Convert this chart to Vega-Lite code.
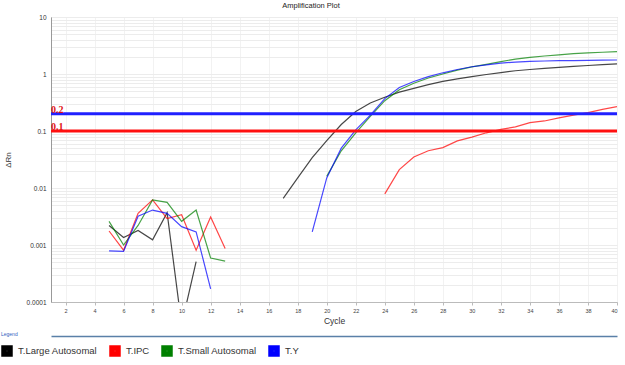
{
  "$schema": "https://vega.github.io/schema/vega-lite/v6.json",
  "autosize": "none",
  "width": 566,
  "height": 285,
  "padding": {"left": 51, "top": 17, "right": 8, "bottom": 63},
  "background": "white",
  "title": {"text": "Amplification Plot", "fontSize": 7.5, "font": "Liberation Sans", "fontWeight": "normal", "color": "#222", "anchor": "middle", "offset": 5, "dx": -23},
  "config": {
    "view": {"stroke": "#c8c8c8"},
    "font": "Liberation Sans"
  },
  "resolve": {"axis": {"x": "independent"}},
  "layer": [
    {
      "data": {"values": [
        {"cycle": 5, "dRn": 0.0022, "target": "T.Large Autosomal", "seg": "a"},
        {"cycle": 6, "dRn": 0.00135, "target": "T.Large Autosomal", "seg": "a"},
        {"cycle": 7, "dRn": 0.0018, "target": "T.Large Autosomal", "seg": "a"},
        {"cycle": 8, "dRn": 0.00123, "target": "T.Large Autosomal", "seg": "a"},
        {"cycle": 9, "dRn": 0.0037, "target": "T.Large Autosomal", "seg": "a"},
        {"cycle": 10, "dRn": 0.00004, "target": "T.Large Autosomal", "seg": "a"},
        {"cycle": 11, "dRn": 0.00051, "target": "T.Large Autosomal", "seg": "a"},
        {"cycle": 17, "dRn": 0.0066, "target": "T.Large Autosomal", "seg": "b"},
        {"cycle": 18, "dRn": 0.015, "target": "T.Large Autosomal", "seg": "b"},
        {"cycle": 19, "dRn": 0.034, "target": "T.Large Autosomal", "seg": "b"},
        {"cycle": 20, "dRn": 0.068, "target": "T.Large Autosomal", "seg": "b"},
        {"cycle": 21, "dRn": 0.13, "target": "T.Large Autosomal", "seg": "b"},
        {"cycle": 22, "dRn": 0.22, "target": "T.Large Autosomal", "seg": "b"},
        {"cycle": 23, "dRn": 0.31, "target": "T.Large Autosomal", "seg": "b"},
        {"cycle": 24, "dRn": 0.39, "target": "T.Large Autosomal", "seg": "b"},
        {"cycle": 25, "dRn": 0.48, "target": "T.Large Autosomal", "seg": "b"},
        {"cycle": 26, "dRn": 0.56, "target": "T.Large Autosomal", "seg": "b"},
        {"cycle": 27, "dRn": 0.65, "target": "T.Large Autosomal", "seg": "b"},
        {"cycle": 28, "dRn": 0.74, "target": "T.Large Autosomal", "seg": "b"},
        {"cycle": 29, "dRn": 0.82, "target": "T.Large Autosomal", "seg": "b"},
        {"cycle": 30, "dRn": 0.9, "target": "T.Large Autosomal", "seg": "b"},
        {"cycle": 31, "dRn": 0.98, "target": "T.Large Autosomal", "seg": "b"},
        {"cycle": 32, "dRn": 1.06, "target": "T.Large Autosomal", "seg": "b"},
        {"cycle": 33, "dRn": 1.14, "target": "T.Large Autosomal", "seg": "b"},
        {"cycle": 34, "dRn": 1.2, "target": "T.Large Autosomal", "seg": "b"},
        {"cycle": 35, "dRn": 1.26, "target": "T.Large Autosomal", "seg": "b"},
        {"cycle": 36, "dRn": 1.31, "target": "T.Large Autosomal", "seg": "b"},
        {"cycle": 37, "dRn": 1.36, "target": "T.Large Autosomal", "seg": "b"},
        {"cycle": 38, "dRn": 1.41, "target": "T.Large Autosomal", "seg": "b"},
        {"cycle": 39, "dRn": 1.46, "target": "T.Large Autosomal", "seg": "b"},
        {"cycle": 40, "dRn": 1.5, "target": "T.Large Autosomal", "seg": "b"},

        {"cycle": 5, "dRn": 0.00176, "target": "T.IPC", "seg": "a"},
        {"cycle": 6, "dRn": 0.00081, "target": "T.IPC", "seg": "a"},
        {"cycle": 7, "dRn": 0.0036, "target": "T.IPC", "seg": "a"},
        {"cycle": 8, "dRn": 0.0062, "target": "T.IPC", "seg": "a"},
        {"cycle": 9, "dRn": 0.0029, "target": "T.IPC", "seg": "a"},
        {"cycle": 10, "dRn": 0.0034, "target": "T.IPC", "seg": "a"},
        {"cycle": 11, "dRn": 0.00081, "target": "T.IPC", "seg": "a"},
        {"cycle": 12, "dRn": 0.0031, "target": "T.IPC", "seg": "a"},
        {"cycle": 13, "dRn": 0.00087, "target": "T.IPC", "seg": "a"},
        {"cycle": 24, "dRn": 0.0079, "target": "T.IPC", "seg": "b"},
        {"cycle": 25, "dRn": 0.021, "target": "T.IPC", "seg": "b"},
        {"cycle": 26, "dRn": 0.035, "target": "T.IPC", "seg": "b"},
        {"cycle": 27, "dRn": 0.045, "target": "T.IPC", "seg": "b"},
        {"cycle": 28, "dRn": 0.051, "target": "T.IPC", "seg": "b"},
        {"cycle": 29, "dRn": 0.067, "target": "T.IPC", "seg": "b"},
        {"cycle": 30, "dRn": 0.078, "target": "T.IPC", "seg": "b"},
        {"cycle": 31, "dRn": 0.093, "target": "T.IPC", "seg": "b"},
        {"cycle": 32, "dRn": 0.107, "target": "T.IPC", "seg": "b"},
        {"cycle": 33, "dRn": 0.118, "target": "T.IPC", "seg": "b"},
        {"cycle": 34, "dRn": 0.14, "target": "T.IPC", "seg": "b"},
        {"cycle": 35, "dRn": 0.15, "target": "T.IPC", "seg": "b"},
        {"cycle": 36, "dRn": 0.17, "target": "T.IPC", "seg": "b"},
        {"cycle": 37, "dRn": 0.19, "target": "T.IPC", "seg": "b"},
        {"cycle": 38, "dRn": 0.21, "target": "T.IPC", "seg": "b"},
        {"cycle": 39, "dRn": 0.24, "target": "T.IPC", "seg": "b"},
        {"cycle": 40, "dRn": 0.267, "target": "T.IPC", "seg": "b"},

        {"cycle": 5, "dRn": 0.0026, "target": "T.Small Autosomal", "seg": "a"},
        {"cycle": 6, "dRn": 0.001, "target": "T.Small Autosomal", "seg": "a"},
        {"cycle": 7, "dRn": 0.0022, "target": "T.Small Autosomal", "seg": "a"},
        {"cycle": 8, "dRn": 0.0062, "target": "T.Small Autosomal", "seg": "a"},
        {"cycle": 9, "dRn": 0.0056, "target": "T.Small Autosomal", "seg": "a"},
        {"cycle": 10, "dRn": 0.0026, "target": "T.Small Autosomal", "seg": "a"},
        {"cycle": 11, "dRn": 0.0041, "target": "T.Small Autosomal", "seg": "a"},
        {"cycle": 12, "dRn": 0.00059, "target": "T.Small Autosomal", "seg": "a"},
        {"cycle": 13, "dRn": 0.00052, "target": "T.Small Autosomal", "seg": "a"},
        {"cycle": 20, "dRn": 0.016, "target": "T.Small Autosomal", "seg": "b"},
        {"cycle": 21, "dRn": 0.045, "target": "T.Small Autosomal", "seg": "b"},
        {"cycle": 22, "dRn": 0.093, "target": "T.Small Autosomal", "seg": "b"},
        {"cycle": 23, "dRn": 0.18, "target": "T.Small Autosomal", "seg": "b"},
        {"cycle": 24, "dRn": 0.34, "target": "T.Small Autosomal", "seg": "b"},
        {"cycle": 25, "dRn": 0.53, "target": "T.Small Autosomal", "seg": "b"},
        {"cycle": 26, "dRn": 0.69, "target": "T.Small Autosomal", "seg": "b"},
        {"cycle": 27, "dRn": 0.85, "target": "T.Small Autosomal", "seg": "b"},
        {"cycle": 28, "dRn": 1.0, "target": "T.Small Autosomal", "seg": "b"},
        {"cycle": 29, "dRn": 1.17, "target": "T.Small Autosomal", "seg": "b"},
        {"cycle": 30, "dRn": 1.33, "target": "T.Small Autosomal", "seg": "b"},
        {"cycle": 31, "dRn": 1.48, "target": "T.Small Autosomal", "seg": "b"},
        {"cycle": 32, "dRn": 1.65, "target": "T.Small Autosomal", "seg": "b"},
        {"cycle": 33, "dRn": 1.83, "target": "T.Small Autosomal", "seg": "b"},
        {"cycle": 34, "dRn": 1.96, "target": "T.Small Autosomal", "seg": "b"},
        {"cycle": 35, "dRn": 2.07, "target": "T.Small Autosomal", "seg": "b"},
        {"cycle": 36, "dRn": 2.17, "target": "T.Small Autosomal", "seg": "b"},
        {"cycle": 37, "dRn": 2.27, "target": "T.Small Autosomal", "seg": "b"},
        {"cycle": 38, "dRn": 2.35, "target": "T.Small Autosomal", "seg": "b"},
        {"cycle": 39, "dRn": 2.41, "target": "T.Small Autosomal", "seg": "b"},
        {"cycle": 40, "dRn": 2.46, "target": "T.Small Autosomal", "seg": "b"},

        {"cycle": 5, "dRn": 0.00079, "target": "T.Y", "seg": "a"},
        {"cycle": 6, "dRn": 0.00077, "target": "T.Y", "seg": "a"},
        {"cycle": 7, "dRn": 0.0032, "target": "T.Y", "seg": "a"},
        {"cycle": 8, "dRn": 0.0041, "target": "T.Y", "seg": "a"},
        {"cycle": 9, "dRn": 0.0036, "target": "T.Y", "seg": "a"},
        {"cycle": 10, "dRn": 0.0021, "target": "T.Y", "seg": "a"},
        {"cycle": 11, "dRn": 0.0017, "target": "T.Y", "seg": "a"},
        {"cycle": 12, "dRn": 0.00017, "target": "T.Y", "seg": "a"},
        {"cycle": 19, "dRn": 0.0017, "target": "T.Y", "seg": "b"},
        {"cycle": 20, "dRn": 0.015, "target": "T.Y", "seg": "b"},
        {"cycle": 21, "dRn": 0.05, "target": "T.Y", "seg": "b"},
        {"cycle": 22, "dRn": 0.105, "target": "T.Y", "seg": "b"},
        {"cycle": 23, "dRn": 0.19, "target": "T.Y", "seg": "b"},
        {"cycle": 24, "dRn": 0.37, "target": "T.Y", "seg": "b"},
        {"cycle": 25, "dRn": 0.58, "target": "T.Y", "seg": "b"},
        {"cycle": 26, "dRn": 0.74, "target": "T.Y", "seg": "b"},
        {"cycle": 27, "dRn": 0.9, "target": "T.Y", "seg": "b"},
        {"cycle": 28, "dRn": 1.05, "target": "T.Y", "seg": "b"},
        {"cycle": 29, "dRn": 1.2, "target": "T.Y", "seg": "b"},
        {"cycle": 30, "dRn": 1.34, "target": "T.Y", "seg": "b"},
        {"cycle": 31, "dRn": 1.45, "target": "T.Y", "seg": "b"},
        {"cycle": 32, "dRn": 1.55, "target": "T.Y", "seg": "b"},
        {"cycle": 33, "dRn": 1.62, "target": "T.Y", "seg": "b"},
        {"cycle": 34, "dRn": 1.66, "target": "T.Y", "seg": "b"},
        {"cycle": 35, "dRn": 1.69, "target": "T.Y", "seg": "b"},
        {"cycle": 36, "dRn": 1.71, "target": "T.Y", "seg": "b"},
        {"cycle": 37, "dRn": 1.72, "target": "T.Y", "seg": "b"},
        {"cycle": 38, "dRn": 1.74, "target": "T.Y", "seg": "b"},
        {"cycle": 39, "dRn": 1.75, "target": "T.Y", "seg": "b"},
        {"cycle": 40, "dRn": 1.76, "target": "T.Y", "seg": "b"}
      ]},
      "mark": {"type": "line", "clip": true, "strokeWidth": 1.2, "opacity": 0.72},
      "encoding": {
        "x": {"field": "cycle", "type": "quantitative",
          "scale": {"domain": [1, 40], "nice": false, "zero": false},
          "axis": {"values": [2,4,6,8,10,12,14,16,18,20,22,24,26,28,30,32,34,36,38,40],
            "title": "Cycle", "titleFontSize": 8.5, "titleFontWeight": "normal", "titleColor": "#333", "titlePadding": 3,
            "labelFontSize": 5.5, "labelColor": "#444", "labelPadding": 3,
            "tickSize": 3, "tickColor": "#bbb", "domainColor": "#bbb",
            "grid": true, "gridColor": "#f2f2f2"}},
        "y": {"field": "dRn", "type": "quantitative",
          "scale": {"type": "log", "domain": [0.0001, 10], "nice": false},
          "axis": {"values": [0.0001,0.0002,0.0003,0.0004,0.0005,0.0006,0.0007,0.0008,0.0009,0.001,0.002,0.003,0.004,0.005,0.006,0.007,0.008,0.009,0.01,0.02,0.03,0.04,0.05,0.06,0.07,0.08,0.09,0.1,0.2,0.3,0.4,0.5,0.6,0.7,0.8,0.9,1,2,3,4,5,6,7,8,9,10],
            "format": "~g",
            "labelExpr": "abs(log(datum.value)/LN10 - round(log(datum.value)/LN10)) < 0.000001 ? datum.label : ''",
            "title": "ΔRn", "titleFontSize": 8, "titleFontWeight": "normal", "titleColor": "#333", "titlePadding": 14,
            "labelFontSize": 6.5, "labelColor": "#333", "labelPadding": 5,
            "ticks": false, "domainColor": "#999",
            "grid": true, "gridColor": "#ececec"}},
        "color": {"field": "target", "type": "nominal",
          "scale": {"domain": ["T.Large Autosomal", "T.IPC", "T.Small Autosomal", "T.Y"], "range": ["#000000", "#ff0000", "#008000", "#0000ff"]},
          "legend": {"orient": "none", "legendX": -50, "legendY": 315, "direction": "horizontal",
            "title": "Legend", "titleFontSize": 5, "titleFontWeight": "normal", "titleColor": "#3060c0", "titlePadding": 8,
            "symbolType": "square", "symbolSize": 36, "symbolOpacity": 1, "symbolStrokeWidth": 5.5,
            "labelFontSize": 9.5, "labelColor": "#333", "labelOffset": 5, "columnPadding": 3}},
        "detail": {"field": "seg", "type": "nominal"}
      }
    },
    {
      "data": {"values": [{"thr": 0.2, "label": "0.2"}]},
      "mark": {"type": "rule", "color": "#2020ff", "strokeWidth": 3},
      "encoding": {"y": {"field": "thr", "type": "quantitative"}}
    },
    {
      "data": {"values": [{"thr": 0.1, "label": "0.1"}]},
      "mark": {"type": "rule", "color": "#ff1010", "strokeWidth": 3},
      "encoding": {"y": {"field": "thr", "type": "quantitative"}}
    },
    {
      "data": {"values": [{"thr": 0.2, "label": "0.2", "pos": 1}, {"thr": 0.1, "label": "0.1", "pos": 1}]},
      "mark": {"type": "text", "align": "left", "baseline": "bottom", "dy": 1, "dx": 0, "font": "Liberation Serif", "fontWeight": "bold", "fontSize": 10, "color": "#e01010"},
      "encoding": {
        "x": {"field": "pos", "type": "quantitative", "axis": null},
        "y": {"field": "thr", "type": "quantitative"},
        "text": {"field": "label"}
      }
    },
    {
      "data": {"values": [{"pos": 1}]},
      "mark": {"type": "tick", "opacity": 0},
      "encoding": {
        "x": {"field": "pos", "type": "quantitative",
          "axis": {"orient": "bottom", "offset": 34, "labels": false, "ticks": false, "grid": false, "title": null, "domainColor": "#5a80a8", "domainWidth": 1.5}}
      }
    }
  ]
}
